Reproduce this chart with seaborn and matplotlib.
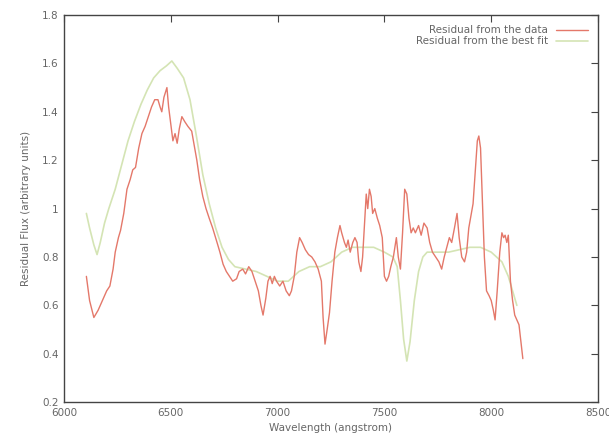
import numpy as np
import pandas as pd
import matplotlib
matplotlib.use("Agg")
import matplotlib.pyplot as plt
import seaborn as sns

# Residual from the data (red)
data_wl = [6105, 6120, 6140, 6160, 6180, 6200, 6215, 6230, 6240, 6255, 6265, 6280, 6295, 6310, 6322, 6335,
           6350, 6365, 6380, 6395, 6410, 6425, 6440, 6450, 6458, 6468, 6475, 6482, 6490, 6500, 6510, 6520,
           6530, 6540, 6552, 6565, 6580, 6598, 6610, 6622, 6635, 6650, 6665, 6680, 6696, 6710, 6720, 6730,
           6745, 6760, 6775, 6790, 6808, 6820, 6837, 6850, 6865, 6880, 6895, 6910, 6922, 6932, 6945, 6955,
           6965, 6975, 6985, 6995, 7010, 7025, 7040, 7055, 7065, 7078, 7090, 7103, 7115, 7130, 7145, 7160,
           7175, 7190, 7205, 7213, 7222, 7232, 7243, 7255, 7268, 7280, 7292, 7300, 7313, 7322, 7330, 7340,
           7352, 7362, 7372, 7380, 7390, 7398, 7408, 7415, 7422, 7430, 7438, 7445, 7455, 7467, 7478, 7490,
           7500, 7510, 7520, 7530, 7542, 7556, 7565, 7575, 7585, 7595, 7605, 7615, 7625, 7635, 7645, 7660,
           7672, 7685, 7700, 7712, 7725, 7740, 7755, 7768, 7780, 7792, 7804, 7815, 7828, 7840, 7850, 7862,
           7875, 7885, 7895, 7905, 7915, 7925, 7935, 7942, 7950, 7958, 7968, 7978, 7990, 8000, 8010, 8018,
           8028, 8040, 8050, 8058, 8065, 8073, 8080, 8090, 8100, 8110, 8120, 8130, 8140, 8148]
data_res = [0.72, 0.62, 0.55, 0.58, 0.62, 0.66, 0.68, 0.75, 0.82, 0.88, 0.91, 0.98, 1.08, 1.12, 1.16, 1.17,
            1.25, 1.31, 1.34, 1.38, 1.42, 1.45, 1.45, 1.42, 1.40, 1.46, 1.48, 1.50, 1.42, 1.35, 1.28, 1.31,
            1.27, 1.33, 1.38, 1.36, 1.34, 1.32, 1.26, 1.20, 1.12, 1.05, 1.00, 0.96, 0.92, 0.88, 0.85, 0.82,
            0.77, 0.74, 0.72, 0.70, 0.71, 0.74, 0.75, 0.73, 0.76, 0.74, 0.70, 0.66, 0.60, 0.56, 0.63, 0.70,
            0.72, 0.69, 0.72, 0.70, 0.68, 0.70, 0.66, 0.64, 0.66, 0.72, 0.82, 0.88, 0.86, 0.83, 0.81, 0.80,
            0.78, 0.75, 0.70, 0.55, 0.44, 0.50, 0.57, 0.70, 0.82, 0.88, 0.93, 0.90, 0.86, 0.84, 0.87, 0.82,
            0.86, 0.88, 0.86, 0.78, 0.74, 0.80, 0.95, 1.06, 1.00, 1.08, 1.05, 0.98, 1.00, 0.96, 0.93, 0.88,
            0.72, 0.70, 0.72, 0.76, 0.80, 0.88, 0.80, 0.75, 0.90, 1.08, 1.06, 0.96, 0.90, 0.92, 0.90, 0.93,
            0.89, 0.94, 0.92, 0.86, 0.82, 0.80, 0.78, 0.75, 0.80, 0.84, 0.88, 0.86, 0.92, 0.98, 0.88, 0.80,
            0.78, 0.82, 0.92, 0.97, 1.02, 1.15, 1.28, 1.30, 1.25, 1.05, 0.80, 0.66, 0.64, 0.62, 0.58, 0.54,
            0.66, 0.82, 0.90, 0.88, 0.89, 0.86, 0.89, 0.70, 0.62, 0.56, 0.54, 0.52, 0.44, 0.38]

# Residual from the best fit (green)
fit_wl = [6105, 6120, 6140, 6155, 6170, 6190, 6210, 6240, 6270, 6300, 6330, 6360, 6390, 6420, 6450, 6480,
          6505, 6530, 6560, 6590, 6620, 6650, 6680, 6710, 6740, 6770, 6800, 6850, 6900, 6950, 7000, 7050,
          7100, 7150, 7200, 7250, 7300, 7350, 7400, 7450, 7500, 7540, 7560, 7575, 7590, 7605, 7620, 7640,
          7660, 7680, 7700, 7750, 7800, 7850, 7900, 7950, 8000, 8050, 8080, 8100, 8120]
fit_res = [0.98, 0.92, 0.85, 0.81, 0.86, 0.94, 1.00, 1.08, 1.18, 1.28, 1.36, 1.43, 1.49, 1.54, 1.57, 1.59,
           1.61, 1.58, 1.54, 1.45, 1.30, 1.14, 1.02, 0.92, 0.84, 0.79, 0.76, 0.75, 0.74, 0.72, 0.70, 0.70,
           0.74, 0.76, 0.76, 0.78, 0.82, 0.84, 0.84, 0.84, 0.82, 0.80, 0.76, 0.62, 0.46, 0.37, 0.45, 0.62,
           0.74, 0.80, 0.82, 0.82, 0.82, 0.83, 0.84, 0.84, 0.82, 0.78, 0.72, 0.66, 0.60]

x_ticks = [6000, 6500, 7000, 7500, 8000, 8500]
y_ticks = [0.2, 0.4, 0.6, 0.8, 1.0, 1.2, 1.4, 1.6, 1.8]
y_tick_labels = ["0.2", "0.4", "0.6", "0.8", "1", "1.2", "1.4", "1.6", "1.8"]

label_data = "Residual from the data"
label_fit = "Residual from the best fit"

sns.set_style("white")
plt.rcParams['font.family'] = ['DejaVu Sans']

fig = plt.figure(figsize=(6.09, 4.41), dpi=100)
ax = fig.add_axes([0.105, 0.088, 0.877, 0.878])

df_data = pd.DataFrame({"wl": data_wl, "res": data_res})
df_fit = pd.DataFrame({"wl": fit_wl, "res": fit_res})

red = "#e4786a"
green = "#d4e4b4"

sns.lineplot(data=df_data, x="wl", y="res", ax=ax, color=red, lw=1.0,
             sort=False, estimator=None, label=label_data, zorder=3)
sns.lineplot(data=df_fit, x="wl", y="res", ax=ax, color=green, lw=1.2,
             sort=False, estimator=None, label=label_fit, zorder=2)

ax.set_xlim(6000, 8500)
ax.set_ylim(0.2, 1.8)
ax.set_xticks(x_ticks)
ax.set_xticklabels([str(t) for t in x_ticks])
ax.set_yticks(y_ticks)
ax.set_yticklabels(y_tick_labels)
ax.tick_params(direction="in", top=True, right=True, length=5, width=0.8,
               labelsize=7.5, labelcolor="#666666", color="#444444", pad=4)
for s in ax.spines.values():
    s.set_color("#444444")
    s.set_linewidth(1.0)

ax.set_xlabel("Wavelength (angstrom)", fontsize=7.5, color="#666666", labelpad=4)
ax.set_ylabel("Residual Flux (arbitrary units)", fontsize=7.5, color="#666666", labelpad=8)

leg = ax.legend(loc="upper right", frameon=False, markerfirst=False, fontsize=7.5,
                handlelength=3.0, borderaxespad=0.6, labelspacing=0.1, handletextpad=0.8)
for t in leg.get_texts():
    t.set_color("#666666")

fig.savefig("out.png", dpi=100, facecolor="white")
